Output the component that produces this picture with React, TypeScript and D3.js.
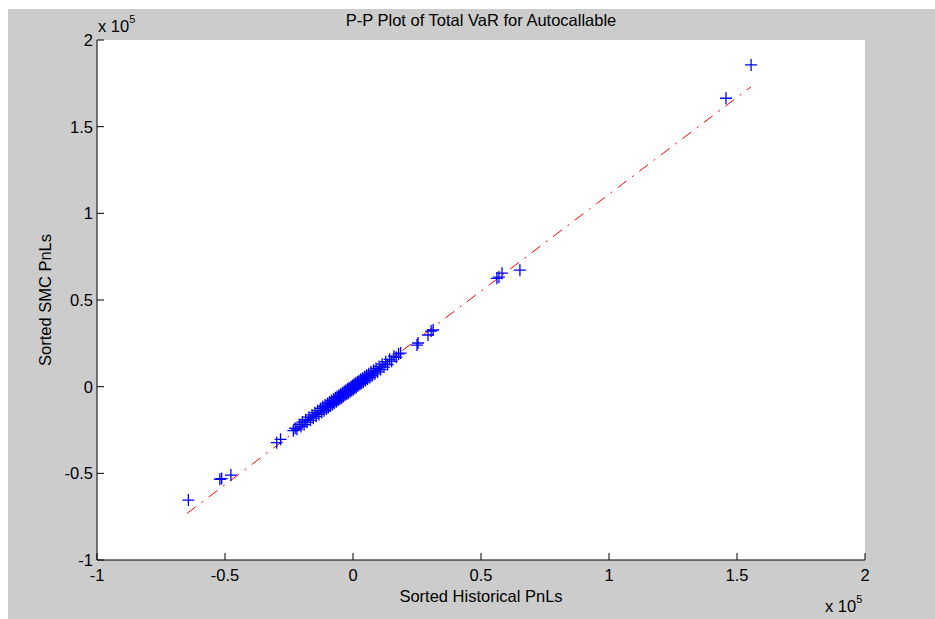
import React from 'react';
import * as d3 from 'd3';

// sorted historical PnLs (x) and sorted SMC PnLs (y)
const sortedHistorical = [
  -64300, -52000, -51300, -47700, -29800, -28300,
  -23300, -22600, -21900, -21000, -20300, -19800, -19100, -18500, -17900, -17200,
  -16600, -16000, -15500, -14900, -14400, -13800, -13300, -12700, -12200, -11800,
  -11300, -10900, -10400, -10000, -9600, -9200, -8800, -8400, -8000, -7600,
  -7300, -6900, -6500, -6200, -5800, -5500, -5100, -4800, -4400, -4100,
  -3800, -3400, -3100, -2800, -2400, -2100, -1800, -1500, -1100, -800,
  -500, -200, 100, 400, 700, 1000, 1300, 1700, 2000, 2300,
  2700, 3000, 3400, 3700, 4100, 4500, 4900, 5300, 5700, 6100,
  6600, 7000, 7500, 8000, 8500, 9000, 9600, 10200, 10800, 11400,
  12100, 12800, 13500, 14300, 15100, 16000, 16900, 17800, 18600,
  25000, 25400, 29300, 30500, 31300,
  56200, 57000, 58200, 65200,
  145700, 155500,
];

const sortedSMC = [
  -65400, -53400, -53000, -51000, -32300, -30400,
  -25400, -24000, -24500, -21800, -23000, -20400, -21900, -19100, -20600, -17600,
  -19400, -16300, -18200, -15000, -17100, -13800, -16000, -12600, -14900, -11600,
  -13900, -10600, -12900, -9700, -12000, -8900, -11100, -8000, -10300, -7200,
  -9500, -6400, -8700, -5700, -7900, -5000, -7100, -4200, -6400, -3500,
  -5700, -2800, -5000, -2100, -4300, -1400, -3600, -700, -2900, 0,
  -2200, 700, -1600, 1400, -900, 2000, -300, 2700, 500, 3400,
  1200, 4100, 1900, 4900, 2700, 5700, 3500, 6600, 4400, 7400,
  5300, 8400, 6300, 9400, 7400, 10500, 8500, 11700, 9900, 13000,
  11300, 14400, 12800, 15800, 14700, 17600, 16900, 18900, 19400,
  24000, 25200, 29800, 32100, 32700,
  62500, 63200, 65500, 67200,
  166400, 185600,
];

// reference line end points
const refLineX = [-64800, 155500];
const refLineY = [-73100, 173000];

const xTicks = [-100000, -50000, 0, 50000, 100000, 150000, 200000];
const xTickLabels = ['-1', '-0.5', '0', '0.5', '1', '1.5', '2'];
const yTicks = [-100000, -50000, 0, 50000, 100000, 150000, 200000];
const yTickLabels = ['-1', '-0.5', '0', '0.5', '1', '1.5', '2'];

const title = 'P-P Plot of Total VaR for Autocallable';
const xLabel = 'Sorted Historical PnLs';
const yLabel = 'Sorted SMC PnLs';

export default function App() {
  const width = 935;
  const height = 619;
  const left = 97;
  const right = 865;
  const top = 40;
  const bottom = 560;
  const tickLen = 7;
  const font = "'Liberation Sans', Arial, sans-serif";
  const tickSize = 16.5;
  const labelSize = 16.5;

  const x = d3.scaleLinear().domain([-100000, 200000]).range([left, right]);
  const y = d3.scaleLinear().domain([-100000, 200000]).range([bottom, top]);

  const points = sortedHistorical.map((v, i) => ({ px: x(v), py: y(sortedSMC[i]) }));
  const line = d3.line<number>()
    .x(d => x(refLineX[d]))
    .y(d => y(refLineY[d]));

  return (
    <svg
      width={width}
      height={height}
      style={{ position: 'absolute', left: 0, top: 0 }}
      fontFamily={font}
    >
      <rect x={0} y={0} width={width} height={height} fill="#fff" />
      <rect x={8} y={9} width={width - 8} height={height - 9} fill="#cccccc" />
      <rect x={left} y={top} width={right - left} height={bottom - top} fill="#fff" />

      <path d={line([0, 1]) || ''} fill="none" stroke="#ff0000" strokeWidth={1} strokeDasharray="11,7,2,7" />

      {points.map((p, i) => (
        <path
          key={i}
          d={`M${p.px - 6},${p.py}H${p.px + 6}M${p.px},${p.py - 6}V${p.py + 6}`}
          stroke="#0000ff"
          strokeWidth={1.3}
          fill="none"
        />
      ))}

      {/* axes */}
      <line x1={left} x2={right} y1={bottom} y2={bottom} stroke="#000" />
      <line x1={left} x2={left} y1={top} y2={bottom} stroke="#000" />
      {xTicks.map((t, i) => (
        <g key={'x' + i}>
          <line x1={x(t)} x2={x(t)} y1={bottom} y2={bottom - tickLen} stroke="#000" />
          <text x={x(t)} y={581} textAnchor="middle" fontSize={tickSize} fill="#000">{xTickLabels[i]}</text>
        </g>
      ))}
      {yTicks.map((t, i) => (
        <g key={'y' + i}>
          <line x1={left} x2={left + tickLen} y1={y(t)} y2={y(t)} stroke="#000" />
          <text x={93} y={y(t) + 6} textAnchor="end" fontSize={tickSize} fill="#000">{yTickLabels[i]}</text>
        </g>
      ))}

      {/* exponents */}
      <text x={98} y={32} fontSize={tickSize} fill="#000">x 10<tspan dy={-9} fontSize={11}>5</tspan></text>
      <text x={825} y={612} fontSize={tickSize} fill="#000">x 10<tspan dy={-9} fontSize={11}>5</tspan></text>

      <text x={(left + right) / 2} y={26} textAnchor="middle" fontSize={labelSize} fill="#000">{title}</text>
      <text x={(left + right) / 2} y={602} textAnchor="middle" fontSize={labelSize} fill="#000">{xLabel}</text>
      <text
        transform={`translate(51,${(top + bottom) / 2}) rotate(-90)`}
        textAnchor="middle"
        fontSize={labelSize}
        fill="#000"
      >
        {yLabel}
      </text>
    </svg>
  );
}
